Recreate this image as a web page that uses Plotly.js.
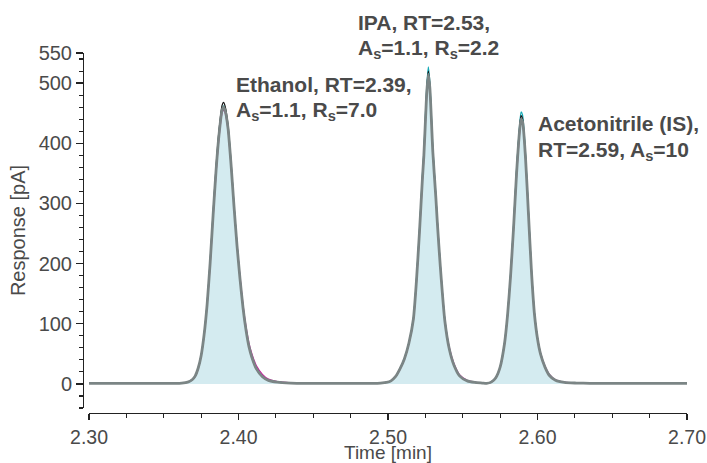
<!DOCTYPE html>
<html>
<head>
<meta charset="utf-8">
<script src="https://cdn.plot.ly/plotly-3.0.1.min.js"></script>
<style>html,body{margin:0;padding:0;background:#fff;}#chart{width:707px;height:463px;}</style>
</head>
<body>
<div id="chart"></div>
<script>
// Retention time [min]
var time = [
  2.30, 2.33, 2.35, 2.358,
  2.362, 2.366, 2.369, 2.371, 2.373, 2.375, 2.377, 2.379, 2.381, 2.383,
  2.385, 2.387, 2.389, 2.390, 2.391, 2.393, 2.395, 2.397, 2.399, 2.401,
  2.403, 2.405, 2.407, 2.409, 2.412, 2.416, 2.420, 2.426, 2.435, 2.445,
  2.46, 2.48, 2.49,
  2.495, 2.499, 2.502, 2.505, 2.508, 2.511, 2.514, 2.517, 2.519, 2.521,
  2.523, 2.524, 2.525, 2.526, 2.527, 2.528, 2.530, 2.532, 2.533, 2.535,
  2.538, 2.541, 2.544, 2.548, 2.553, 2.558,
  2.563, 2.566,
  2.569, 2.572, 2.575, 2.578, 2.580, 2.582, 2.584, 2.586, 2.588, 2.589,
  2.590, 2.592, 2.594, 2.596, 2.598, 2.600, 2.602, 2.605, 2.608, 2.612,
  2.618, 2.626, 2.635,
  2.65, 2.68, 2.70
];
// Response [pA] — mean run (thick grey)
var runGrey = [
  1, 1, 1, 1,
  1.5, 3, 7, 13, 26, 47, 82, 132, 200, 280,
  355, 415, 455, 460, 455, 425, 365, 295, 230, 175,
  127, 90, 62, 44, 25, 12, 6, 3, 1.5, 1,
  1, 1, 1,
  1.5, 2.5, 5, 12, 25, 42, 68, 108, 170, 250,
  340, 380, 435, 487, 515, 492, 385, 310, 268, 195,
  105, 58, 32, 13, 5, 2.5,
  1.5, 1,
  3, 10, 28, 68, 115, 180, 260, 350, 420, 440,
  436, 375, 280, 185, 115, 75, 50, 28, 14, 6,
  2.5, 1.5, 1,
  1, 1, 1
];
var runBlack = [
  1, 1, 1, 1,
  1.5, 3, 7, 13, 26, 48, 83, 134, 203, 285,
  362, 423, 463, 468, 462, 431, 370, 298, 232, 176,
  128, 91, 63, 44, 25, 12, 6, 3, 1.5, 1,
  1, 1, 1,
  1.5, 2.5, 5, 12, 25, 42, 68, 109, 171, 252,
  343, 384, 440, 493, 520, 496, 388, 312, 270, 196,
  106, 58, 32, 13, 5, 2.5,
  1.5, 1,
  3, 10, 28, 69, 116, 182, 263, 355, 426, 446,
  441, 379, 283, 187, 116, 76, 50, 28, 14, 6,
  2.5, 1.5, 1,
  1, 1, 1
];
var runCyan = [
  1, 1, 1, 1,
  1.5, 3, 7, 13, 26, 47, 82, 133, 201, 282,
  358, 419, 458, 462, 457, 427, 367, 296, 231, 175,
  127, 90, 62, 44, 25, 12, 6, 3, 1.5, 1,
  1, 1, 1,
  1.5, 2.5, 5, 12, 25, 43, 69, 110, 173, 255,
  347, 388, 446, 499, 527, 502, 393, 315, 272, 198,
  107, 59, 32, 13, 5, 2.5,
  1.5, 1,
  3, 10, 28, 70, 117, 184, 266, 358, 430, 452,
  447, 383, 285, 189, 117, 76, 51, 28, 14, 6,
  2.5, 1.5, 1,
  1, 1, 1
];
var runMagenta = [
  1, 1, 1, 1,
  1.5, 3, 7, 12, 25, 46, 80, 130, 197, 276,
  350, 410, 450, 455, 451, 422, 364, 296, 233, 179,
  132, 96, 68, 50, 30, 16, 8, 4, 2, 1,
  1, 1, 1,
  1.5, 2.5, 5, 12, 24, 41, 67, 106, 167, 247,
  336, 376, 431, 483, 512, 490, 385, 312, 271, 198,
  108, 61, 35, 15, 6, 3,
  1.5, 1,
  3, 10, 27, 67, 114, 178, 257, 346, 416, 438,
  434, 374, 281, 187, 117, 77, 52, 30, 16, 7,
  3, 1.5, 1,
  1, 1, 1
];
var xTickVals = [2.30, 2.40, 2.50, 2.60, 2.70];
var yTickVals = [0, 100, 200, 300, 400, 500, 550];
var xTitle = 'Time [min]';
var yTitle = 'Response [pA]';
var labelLines = [
  {text: "Ethanol, RT=2.39,", px: 234, py: 84},
  {text: "A<sub>s</sub>=1.1, R<sub>s</sub>=7.0", px: 234, py: 111},
  {text: "IPA, RT=2.53,", px: 356, py: 22},
  {text: "A<sub>s</sub>=1.1, R<sub>s</sub>=2.2", px: 356, py: 49},
  {text: "Acetonitrile (IS),", px: 536, py: 124},
  {text: "RT=2.59, A<sub>s</sub>=10", px: 536, py: 151}
];

var FONT = "'Liberation Sans', Arial, Helvetica, sans-serif";
var L = 83, R = 20, T = 53, B = 50, W = 707, H = 463;
var pw = W - L - R, ph = H - T - B;

var traces = [
  {x: time, y: runGrey, type: 'scatter', mode: 'lines', fill: 'tozeroy',
   fillcolor: 'rgba(212,235,240,1)', line: {width: 0, shape: 'spline', smoothing: 0.6}, hoverinfo: 'skip'},
  {x: time, y: runMagenta, type: 'scatter', mode: 'lines',
   line: {color: '#c0209a', width: 1.2, shape: 'spline', smoothing: 0.6}},
  {x: time, y: runCyan, type: 'scatter', mode: 'lines',
   line: {color: '#13a9b5', width: 1.2, shape: 'spline', smoothing: 0.6}},
  {x: time, y: runBlack, type: 'scatter', mode: 'lines',
   line: {color: '#111111', width: 1.2, shape: 'spline', smoothing: 0.6}},
  {x: time, y: runGrey, type: 'scatter', mode: 'lines',
   line: {color: '#7b8585', width: 2.8, shape: 'spline', smoothing: 0.6}}
];

var annotations = labelLines.map(function (a) {
  return {
    text: a.text, xref: 'paper', yref: 'paper',
    x: (a.px - L) / pw, y: (H - B - a.py) / ph,
    xanchor: 'left', yanchor: 'middle', showarrow: false,
    font: {family: FONT, size: 21, color: '#4a4a4a', weight: 'bold'}
  };
});
// x-axis title placed as text just under the tick labels
annotations.push({
  text: xTitle, xref: 'paper', yref: 'paper',
  x: ((89 + 687) / 2 - L) / pw, y: (H - B - 452) / ph,
  xanchor: 'center', yanchor: 'middle', showarrow: false, borderpad: 0,
  font: {family: FONT, size: 19, color: '#4a4a4a'}
});

var layout = {
  width: W, height: H,
  margin: {l: L, r: R, t: T, b: B, pad: 0},
  paper_bgcolor: '#fff', plot_bgcolor: 'rgba(0,0,0,0)',
  showlegend: false,
  font: {family: FONT, size: 20, color: '#4a4a4a'},
  xaxis: {
    range: [2.30, 2.70], domain: [(89 - L) / pw, 1],
    anchor: 'free', position: 0,
    showgrid: false, zeroline: false,
    showline: true, linecolor: '#222', linewidth: 1.3,
    ticks: 'outside', ticklen: 6, tickwidth: 1.3, tickcolor: '#222',
    tickvals: xTickVals, tickformat: '.2f',
    minor: {dtick: 0.025, tick0: 2.30, ticks: 'outside', ticklen: 4, tickwidth: 1.1, tickcolor: '#222'},
    tickfont: {family: FONT, size: 19.5, color: '#4a4a4a'}
  },
  yaxis: {
    range: [-40, 550], domain: [5 / ph, 1],
    anchor: 'free', position: 0,
    showgrid: false, zeroline: false,
    showline: true, linecolor: '#222', linewidth: 1.3,
    ticks: 'outside', ticklen: 7, tickwidth: 1.3, tickcolor: '#222',
    tickvals: yTickVals,
    minor: {dtick: 20, tick0: 0, ticks: 'outside', ticklen: 4, tickwidth: 1.1, tickcolor: '#222'},
    tickfont: {family: FONT, size: 20, color: '#4a4a4a'},
    title: {text: yTitle, standoff: 6, font: {family: FONT, size: 20, color: '#4a4a4a'}}
  },
  annotations: annotations
};

Plotly.newPlot('chart', traces, layout, {staticPlot: true, displayModeBar: false});
</script>
</body>
</html>
